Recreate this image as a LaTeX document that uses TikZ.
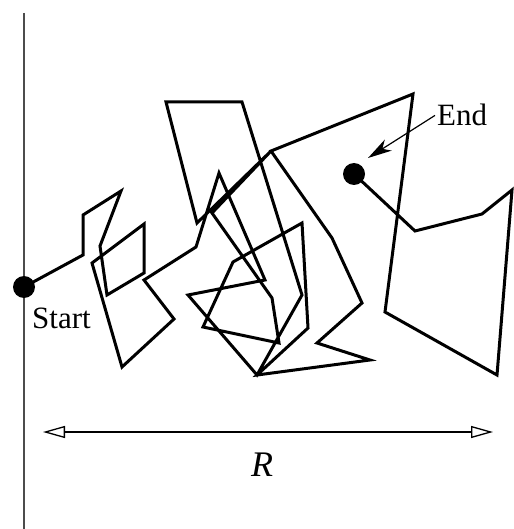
\documentclass[tikz,border=0pt]{standalone}
\usepackage{fontspec}
\setmainfont{Liberation Serif}
\usetikzlibrary{arrows.meta}

\tikzset{
  pad/.style={line width=3pt, line join=miter},
  stip/.style={circle, fill=black, inner sep=0pt, minimum size=22pt},
  label/.style={font=\fontsize{31}{35}\selectfont, inner sep=2pt}
}

\begin{document}
\begin{tikzpicture}[x=1pt, y=-1pt]
  \useasboundingbox (0,0) rectangle (513,529);
  % verticale as
  \draw[line width=2pt, black!70] (24,13) -- (24,529);
  % begin- en eindpunt
  \node[stip] (start) at (24,287) {};
  \node[stip] (eind) at (354,174) {};
  % de wandeling
  \draw[pad] (start.center) -- (83,255) -- (83,215) -- (121,191) -- (100,246)
    -- (107,295) -- (144,273) -- (144,224) -- (92,263) -- (122,367)
    -- (174,319) -- (144,280) -- (196,247) -- (219,173) -- (265,280)
    -- (188,295) -- (257,375) -- (302,295) -- (242,102) -- (166,102)
    -- (197,223) -- (271,151) -- (212,213) -- (272,298) -- (279,343)
    -- (203,327) -- (233,262) -- (302,223) -- (308,328) -- (257,375)
    -- (370,360) -- (317,343) -- (362,303) -- (332,238) -- (271,151)
    -- (413,94) -- (385,312) -- (497,375) -- (512,190) -- (482,214)
    -- (415,231) -- (eind.center);
  % labels
  \node[label, anchor=base west] (startlab) at (30,328) {Start};
  \node[label, anchor=base west] (eindlab) at (435,126) {End};
  \coordinate (pijlpunt) at (368,158);
  \draw[line width=1.2pt, -{Stealth[length=24pt, width=13pt, inset=7pt]}]
    (eindlab.west) -- (pijlpunt);
  % afstand R
  \coordinate (rlinks) at (43,432);
  \coordinate (rrechts) at (493,432);
  \draw[line width=1.3pt, {Triangle[open, length=22pt, width=12pt]}-{Triangle[open, length=22pt, width=12pt]}]
    (rlinks) -- (rrechts);
  \node[label, font=\fontsize{36}{40}\selectfont\itshape] (rlab) at (262,465) {R};
\end{tikzpicture}
\end{document}
